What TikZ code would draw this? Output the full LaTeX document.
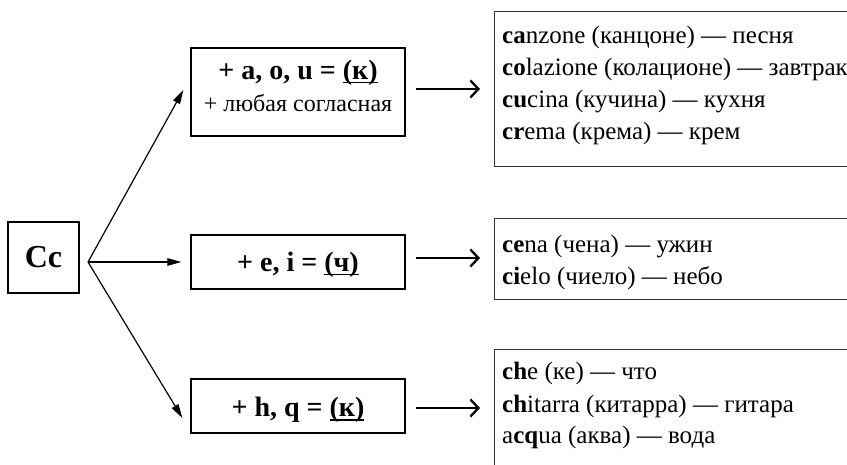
\documentclass[tikz,border=0pt]{standalone}
\usepackage{fontspec}
\setmainfont{Liberation Serif}
\usetikzlibrary{arrows.meta}
\newcommand\myul[1]{\setbox0\hbox{#1}\rlap{\rule[-3.5pt]{\wd0}{1.4pt}}\box0}
\begin{document}
\begin{tikzpicture}[x=1pt,y=1pt,
  lbox/.style={draw,line width=1.3pt,minimum width=214pt,inner sep=0pt},
  rbox/.style={draw=black!80,line width=1.3pt,minimum width=420pt,inner sep=0pt,anchor=north west},
  rtext/.style={anchor=base west,inner sep=0pt,font=\fontsize{25}{32}\selectfont},
  btext/.style={anchor=base,inner sep=0pt,font=\fontsize{28}{32}\selectfont\bfseries},
  thinarrow/.style={line width=1.2pt,-{Triangle[length=14pt,width=7.5pt]}},
  bigarrow/.style={line width=2.3pt,-{Straight Barb[length=8pt,width=17pt,line width=2.3pt]}}]
\useasboundingbox (0,0) rectangle (847,-465);
% Cc
\node[draw,line width=1.6pt,minimum width=71pt,minimum height=71pt,inner sep=0pt,
  font=\fontsize{32}{36}\selectfont\bfseries] (cc) at (43.5,-257.5) {Cc};
\coordinate (apex) at (88,-262);
% left boxes
\node[lbox,minimum height=88pt] (l1) at (298,-92) {};
\node[btext] (l1a) at (298,-80) {+ a, o, u = \myul{(к)}};
\node[anchor=base,inner sep=0pt,font=\fontsize{24}{30}\selectfont] (l1b) at (298,-112) {+ любая согласная};
\node[lbox,minimum height=54pt] (l2) at (298,-262) {};
\node[btext] (l2a) at (298,-272) {+ e, i = \myul{(ч)}};
\node[lbox,minimum height=54pt] (l3) at (298,-406) {};
\node[btext] (l3a) at (298,-417) {+ h, q = \myul{(к)}};
% right boxes
\node[rbox,minimum height=155pt] (r1) at (494,-11) {};
\node[rtext] (r1a) at (502,-44) {\textbf{ca}nzone (канцоне) — песня};
\node[rtext] (r1b) at (502,-76) {\textbf{co}lazione (колационе) — завтрак};
\node[rtext] (r1c) at (502,-108) {\textbf{cu}cina (кучина) — кухня};
\node[rtext] (r1d) at (502,-140) {\textbf{cr}ema (крема) — крем};
\node[rbox,minimum height=81pt] (r2) at (494,-218) {};
\node[rtext] (r2a) at (502,-253) {\textbf{ce}na (чена) — ужин};
\node[rtext] (r2b) at (502,-285) {\textbf{ci}elo (чиело) — небо};
\node[rbox,minimum height=150pt] (r3) at (494,-349) {};
\node[rtext] (r3a) at (502,-380) {\textbf{ch}e (ке) — что};
\node[rtext] (r3b) at (502,-412) {\textbf{ch}itarra (китарра) — гитара};
\node[rtext] (r3c) at (502,-443) {a\textbf{cq}ua (аква) — вода};
% connectors
\draw[thinarrow] (apex) -- ([xshift=-7pt,yshift=2pt]l1.west);
\draw[thinarrow] (apex) -- ([xshift=-9pt]l2.west);
\draw[thinarrow] (apex) -- ([xshift=-8pt,yshift=-12pt]l3.west);
\draw[bigarrow] ([xshift=10pt,yshift=3pt]l1.east) -- ([xshift=-14pt,yshift=3pt]l1.east -| r1.west);
\draw[bigarrow] ([xshift=10pt,yshift=4pt]l2.east) -- ([xshift=-14pt,yshift=4pt]l2.east -| r2.west);
\draw[bigarrow] ([xshift=10pt,yshift=-2pt]l3.east) -- ([xshift=-14pt,yshift=-2pt]l3.east -| r3.west);
\end{tikzpicture}
\end{document}
